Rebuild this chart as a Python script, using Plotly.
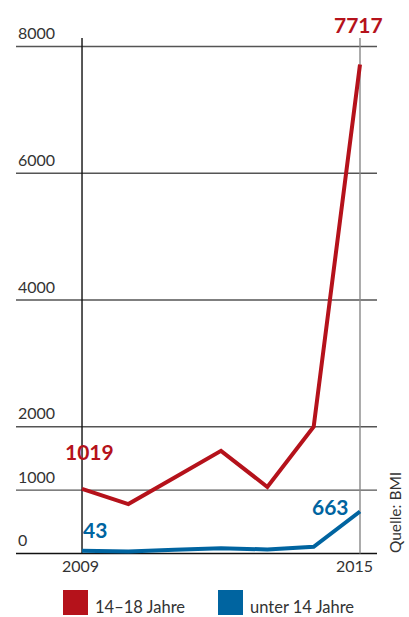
import plotly.graph_objects as go

# ---- data ----
years = [2009, 2010, 2011, 2012, 2013, 2014, 2015]
teens = [1019, 780, 1200, 1620, 1050, 2000, 7717]      # 14–18 Jahre
kids = [43, 33, 59, 81, 65, 106, 663]                   # unter 14 Jahre
series_names = ["14\u201318 Jahre", "unter 14 Jahre"]
y_ticks = [0, 1000, 2000, 4000, 6000, 8000]
x_ticks = [2009, 2015]
source = "Quelle: BMI"

RED = "#B5121B"
BLUE = "#0064A0"
FONT = "Lato"
TXT = "#333333"

fig = go.Figure()
fig.add_trace(go.Scatter(x=years, y=teens, mode="lines", name=series_names[0],
                         line=dict(color=RED, width=4), showlegend=False))
fig.add_trace(go.Scatter(x=years, y=kids, mode="lines", name=series_names[1],
                         line=dict(color=BLUE, width=4), showlegend=False))

shapes = []
# horizontal gridlines
for v in y_ticks:
    shapes.append(dict(type="line", xref="paper", yref="y", x0=0, x1=1, y0=v, y1=v,
                       line=dict(color="#111111" if v == 0 else "#555555", width=1.4),
                       layer="below"))
# vertical lines
for i, yr in enumerate(x_ticks):
    shapes.append(dict(type="line", xref="x", yref="paper", x0=yr, x1=yr, y0=0.0125, y1=1,
                       line=dict(color="#111111" if i == 0 else "#888888", width=1.4),
                       layer="below"))

annotations = []
for v in y_ticks:
    annotations.append(dict(xref="paper", yref="y", x=0, y=v, xanchor="left", yanchor="middle",
                            yshift=14, text=str(v), showarrow=False,
                            font=dict(family=FONT, size=16, color=TXT)))
for yr, dx in zip(x_ticks, [-2, -6]):
    annotations.append(dict(xref="x", yref="paper", x=yr, y=0, xanchor="center", yanchor="middle",
                            xshift=dx, yshift=-5, text=str(yr), showarrow=False,
                            font=dict(family=FONT, size=16, color=TXT)))

# value labels
annotations += [
    dict(xref="x", yref="y", x=years[0], y=teens[0], text="<b>%d</b>" % teens[0],
         xanchor="center", yanchor="middle", xshift=7, yshift=37, showarrow=False,
         font=dict(family=FONT, size=21, color=RED)),
    dict(xref="x", yref="y", x=years[-1], y=teens[-1], text="<b>%d</b>" % teens[-1],
         xanchor="center", yanchor="middle", xshift=-2, yshift=40, showarrow=False,
         font=dict(family=FONT, size=21, color=RED)),
    dict(xref="x", yref="y", x=years[0], y=kids[0], text="<b>%d</b>" % kids[0],
         xanchor="center", yanchor="middle", xshift=13, yshift=21, showarrow=False,
         font=dict(family=FONT, size=21, color=BLUE)),
    dict(xref="x", yref="y", x=years[-1], y=kids[-1], text="<b>%d</b>" % kids[-1],
         xanchor="center", yanchor="middle", xshift=-30, yshift=5, showarrow=False,
         font=dict(family=FONT, size=21, color=BLUE)),
]

# source
annotations.append(dict(xref="paper", yref="paper", x=1.05, y=0.09, text=source, textangle=-90,
                        xanchor="center", yanchor="middle", showarrow=False,
                        font=dict(family=FONT, size=15.5, color=TXT)))

# legend (manual squares)
leg = [(63, RED, series_names[0]), (218, BLUE, series_names[1])]
W, H = 409, 617
for x0, col, name in leg:
    shapes.append(dict(type="rect", xref="paper", yref="paper",
                       x0=(x0 - 16) / 361, x1=(x0 + 25 - 16) / 361,
                       y0=-(615 - 560) / 522, y1=-(590 - 560) / 522,
                       fillcolor=col, line=dict(width=0)))
    annotations.append(dict(xref="paper", yref="paper", x=(x0 + 30 - 16) / 361,
                            y=-(607 - 560) / 522, xanchor="left", yanchor="middle",
                            text=name, showarrow=False,
                            font=dict(family=FONT, size=16.5, color=TXT)))

fig.update_layout(
    width=W, height=H,
    margin=dict(l=16, r=32, t=38, b=57),
    paper_bgcolor="white", plot_bgcolor="white",
    xaxis=dict(range=[2007.575, 2015.367], showgrid=False, zeroline=False,
               showticklabels=False, showline=False, ticks=""),
    yaxis=dict(range=[-102.6, 8134.8], showgrid=False, zeroline=False,
               showticklabels=False, showline=False, ticks=""),
    shapes=shapes, annotations=annotations, showlegend=False,
)

fig.write_html("out.html", config={"displayModeBar": False})
